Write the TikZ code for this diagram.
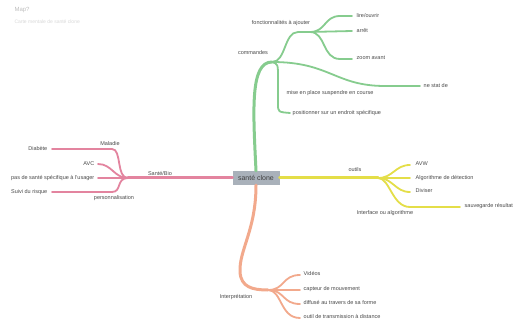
\documentclass[tikz,border=0pt]{standalone}
\usepackage{fontspec}
\setmainfont{Liberation Sans}
\definecolor{gc}{HTML}{86CC8E}
\definecolor{pc}{HTML}{E3849F}
\definecolor{yc}{HTML}{E4DE48}
\definecolor{oc}{HTML}{F2A98C}
\definecolor{txt}{HTML}{4A4A4A}
\definecolor{boxc}{HTML}{A9B1BA}
\begin{document}
\begin{tikzpicture}[x=1pt,y=-1pt,
  lbl/.style={font=\fontsize{5.5}{6}\selectfont, text=txt, inner sep=0.5pt},
  br/.style={line width=3pt, line cap=round},
  sub/.style={line width=1.8pt, line cap=round},
  centre/.style={fill=boxc, text=black!75, font=\fontsize{7}{8}\selectfont, minimum width=47pt, minimum height=14pt, inner sep=1pt}]
\useasboundingbox[fill=white] (0,0) rectangle (517,326);

% title
\node[font=\fontsize{6}{7}\selectfont, text=black!25, anchor=west] (title) at (11,10) {Map?};
\node[font=\fontsize{5}{6}\selectfont, text=black!15, anchor=west] (subtitle) at (11,22) {Carte mentale de santé clone};

% centre
\node[centre] (c) at (256,178) {santé clone};

% ---------- pink ----------
\coordinate (ph) at (128,178);
\draw[br,pc] (c.west) -- (ph);
\node[lbl,anchor=south] (sante) at (160,176) {Santé/Bio};
\coordinate (pm1) at (112,149); \coordinate (pm0) at (52,149);
\draw[sub,pc] (ph) .. controls (116,178) and (122,149) .. (pm1) -- (pm0);
\node[lbl,anchor=south] (maladie) at (110,146) {Maladie};
\node[lbl,anchor=east] (diabete) at (48,149) {Diabète};
\coordinate (pa) at (98,164);
\draw[sub,pc] (ph) .. controls (114,178) and (112,164) .. (pa);
\node[lbl,anchor=east] (avc) at (95,164) {AVC};
\coordinate (pp) at (98,178);
\draw[sub,pc] (ph) -- (pp);
\node[lbl,anchor=east] (pas) at (95,178) {pas de santé spécifique à l'usager};
\coordinate (pq1) at (112,192); \coordinate (pq0) at (52,192);
\draw[sub,pc] (ph) .. controls (116,178) and (122,192) .. (pq1) -- (pq0);
\node[lbl,anchor=north] (perso) at (114,195) {personnalisation};
\node[lbl,anchor=east] (suivi) at (48,192) {Suivi du risque};

% ---------- green ----------
\coordinate (gh) at (272,62);
\draw[br,gc] (c.north) .. controls (253,110) and (250,62) .. (gh);
\node[lbl] (commandes) at (253,53) {commandes};
\coordinate (gf1) at (298,32); \coordinate (gf2) at (310,32);
\draw[sub,gc] (gh) .. controls (286,62) and (284,32) .. (gf1) -- (gf2);
\node[lbl] (fonct) at (281,23) {fonctionnalités à ajouter};
\coordinate (gl1) at (352,16); \coordinate (gl2) at (352,31); \coordinate (gl3) at (352,59);
\draw[sub,gc] (gf2) .. controls (326,32) and (324,16) .. (340,16) -- (gl1);
\draw[sub,gc] (gf2) -- (gl2);
\draw[sub,gc] (gf2) .. controls (326,32) and (322,59) .. (340,59) -- (gl3);
\node[lbl,anchor=west] (lire) at (356,16) {lire/ouvrir};
\node[lbl,anchor=west] (arret) at (356,31) {arrêt};
\node[lbl,anchor=west] (zoom) at (356,58) {zoom avant};
\coordinate (gn) at (420,86);
\draw[sub,gc] (gh) .. controls (330,62) and (335,86) .. (385,86) -- (gn);
\node[lbl,anchor=west] (nestat) at (423,86) {ne stat de};
\node[lbl] (mise) at (330,93) {mise en place suspendre en course};
\coordinate (gp) at (290,113);
\draw[sub,gc] (gh) .. controls (278,64) .. (278,78) -- (278,104) .. controls (278,112) .. (gp);
\node[lbl,anchor=west] (posit) at (292,113) {positionner sur un endroit spécifique};

% ---------- yellow ----------
\coordinate (yh) at (378,178);
\draw[br,yc] (c.east) -- (yh);
\node[lbl] (outils) at (355,170) {outils};
\coordinate (y1) at (410,165); \coordinate (y2) at (410,178);
\coordinate (y3) at (410,192); \coordinate (y4) at (460,207);
\draw[sub,yc] (yh) .. controls (393,178) and (395,165) .. (y1);
\draw[sub,yc] (yh) -- (y2);
\draw[sub,yc] (yh) .. controls (393,178) and (395,192) .. (y3);
\draw[sub,yc] (yh) .. controls (390,178) and (392,207) .. (410,207) -- (y4);
\node[lbl,anchor=west] (avw) at (415,164) {AVW};
\node[lbl,anchor=west] (algo) at (415,178) {Algorithme de détection};
\node[lbl,anchor=west] (divis) at (415,191) {Diviser};
\node[lbl,anchor=west] (sauve) at (464,206) {sauvegarde résultat};
\node[lbl] (interf) at (385,213) {Interface ou algorithme};

% ---------- orange ----------
\coordinate (oh) at (268,290);
\draw[br,oc] (c.south) .. controls (256,230) and (239,250) .. (240,272) .. controls (241,287) and (252,290) .. (oh);
\node[lbl] (interp) at (236,297) {Interprétation};
\coordinate (o1) at (300,275); \coordinate (o2) at (300,290);
\coordinate (o3) at (300,304); \coordinate (o4) at (300,318);
\draw[sub,oc] (oh) .. controls (285,290) and (282,275) .. (o1);
\draw[sub,oc] (oh) -- (o2);
\draw[sub,oc] (oh) .. controls (285,290) and (282,304) .. (o3);
\draw[sub,oc] (oh) .. controls (282,290) and (280,318) .. (o4);
\node[lbl,anchor=west] (videos) at (303,274) {Vidéos};
\node[lbl,anchor=west] (capteur) at (303,289) {capteur de mouvement};
\node[lbl,anchor=west] (diffuse) at (303,303) {diffusé au travers de sa forme};
\node[lbl,anchor=west] (outil) at (303,317) {outil de transmission à distance};
\end{tikzpicture}
\end{document}
